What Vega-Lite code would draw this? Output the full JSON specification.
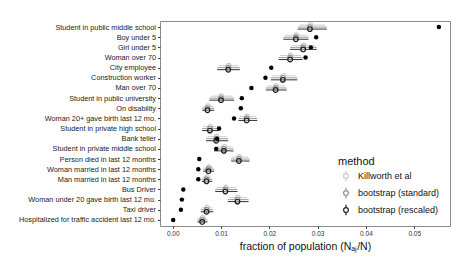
{
  "$schema": "https://vega.github.io/schema/vega-lite/v6.json",
  "width": 290,
  "height": 205,
  "autosize": {"type": "none"},
  "padding": {"left": 160, "top": 21, "right": 8, "bottom": 36},
  "config": {
    "font": "Liberation Sans",
    "view": {"stroke": "#8c8c8c", "strokeWidth": 1},
    "axis": {"domain": false, "grid": false, "tickColor": "#444", "tickSize": 2.5, "labelColor": "#222"}
  },
  "datasets": {
    "est": [
      {"group": "Student in public middle school", "method": "Killworth et al", "est": 0.0285, "lo": 0.0262, "hi": 0.0316},
      {"group": "Student in public middle school", "method": "bootstrap (standard)", "est": 0.0284, "lo": 0.0259, "hi": 0.0319},
      {"group": "Student in public middle school", "method": "bootstrap (rescaled)", "est": 0.0284, "lo": 0.0259, "hi": 0.0319},
      {"group": "Boy under 5", "method": "Killworth et al", "est": 0.0256, "lo": 0.0232, "hi": 0.0278},
      {"group": "Boy under 5", "method": "bootstrap (standard)", "est": 0.0255, "lo": 0.0229, "hi": 0.0281},
      {"group": "Boy under 5", "method": "bootstrap (rescaled)", "est": 0.0255, "lo": 0.0229, "hi": 0.0281},
      {"group": "Girl under 5", "method": "Killworth et al", "est": 0.0271, "lo": 0.0246, "hi": 0.0295},
      {"group": "Girl under 5", "method": "bootstrap (standard)", "est": 0.0270, "lo": 0.0243, "hi": 0.0298},
      {"group": "Girl under 5", "method": "bootstrap (rescaled)", "est": 0.0270, "lo": 0.0243, "hi": 0.0298},
      {"group": "Woman over 70", "method": "Killworth et al", "est": 0.0244, "lo": 0.0222, "hi": 0.0266},
      {"group": "Woman over 70", "method": "bootstrap (standard)", "est": 0.0243, "lo": 0.0219, "hi": 0.0269},
      {"group": "Woman over 70", "method": "bootstrap (rescaled)", "est": 0.0243, "lo": 0.0219, "hi": 0.0269},
      {"group": "City employee", "method": "Killworth et al", "est": 0.0116, "lo": 0.0095, "hi": 0.0136},
      {"group": "City employee", "method": "bootstrap (standard)", "est": 0.0115, "lo": 0.0092, "hi": 0.0139},
      {"group": "City employee", "method": "bootstrap (rescaled)", "est": 0.0115, "lo": 0.0092, "hi": 0.0139},
      {"group": "Construction worker", "method": "Killworth et al", "est": 0.0229, "lo": 0.0206, "hi": 0.0255},
      {"group": "Construction worker", "method": "bootstrap (standard)", "est": 0.0228, "lo": 0.0203, "hi": 0.0258},
      {"group": "Construction worker", "method": "bootstrap (rescaled)", "est": 0.0228, "lo": 0.0203, "hi": 0.0258},
      {"group": "Man over 70", "method": "Killworth et al", "est": 0.0214, "lo": 0.0196, "hi": 0.0233},
      {"group": "Man over 70", "method": "bootstrap (standard)", "est": 0.0213, "lo": 0.0193, "hi": 0.0236},
      {"group": "Man over 70", "method": "bootstrap (rescaled)", "est": 0.0213, "lo": 0.0193, "hi": 0.0236},
      {"group": "Student in public university", "method": "Killworth et al", "est": 0.0101, "lo": 0.0079, "hi": 0.0124},
      {"group": "Student in public university", "method": "bootstrap (standard)", "est": 0.0100, "lo": 0.0076, "hi": 0.0127},
      {"group": "Student in public university", "method": "bootstrap (rescaled)", "est": 0.0100, "lo": 0.0076, "hi": 0.0127},
      {"group": "On disability", "method": "Killworth et al", "est": 0.0073, "lo": 0.0063, "hi": 0.0084},
      {"group": "On disability", "method": "bootstrap (standard)", "est": 0.0072, "lo": 0.0061, "hi": 0.0086},
      {"group": "On disability", "method": "bootstrap (rescaled)", "est": 0.0072, "lo": 0.0061, "hi": 0.0086},
      {"group": "Woman 20+  gave birth last 12 mo.", "method": "Killworth et al", "est": 0.0154, "lo": 0.0138, "hi": 0.0172},
      {"group": "Woman 20+  gave birth last 12 mo.", "method": "bootstrap (standard)", "est": 0.0153, "lo": 0.0136, "hi": 0.0175},
      {"group": "Woman 20+  gave birth last 12 mo.", "method": "bootstrap (rescaled)", "est": 0.0153, "lo": 0.0136, "hi": 0.0175},
      {"group": "Student in private high school", "method": "Killworth et al", "est": 0.0078, "lo": 0.0063, "hi": 0.0094},
      {"group": "Student in private high school", "method": "bootstrap (standard)", "est": 0.0077, "lo": 0.0061, "hi": 0.0096},
      {"group": "Student in private high school", "method": "bootstrap (rescaled)", "est": 0.0077, "lo": 0.0061, "hi": 0.0096},
      {"group": "Bank teller", "method": "Killworth et al", "est": 0.0091, "lo": 0.0072, "hi": 0.0112},
      {"group": "Bank teller", "method": "bootstrap (standard)", "est": 0.0090, "lo": 0.0069, "hi": 0.0115},
      {"group": "Bank teller", "method": "bootstrap (rescaled)", "est": 0.0090, "lo": 0.0069, "hi": 0.0115},
      {"group": "Student in private middle school", "method": "Killworth et al", "est": 0.0107, "lo": 0.0088, "hi": 0.0124},
      {"group": "Student in private middle school", "method": "bootstrap (standard)", "est": 0.0106, "lo": 0.0086, "hi": 0.0126},
      {"group": "Student in private middle school", "method": "bootstrap (rescaled)", "est": 0.0106, "lo": 0.0086, "hi": 0.0126},
      {"group": "Person died in last 12 months", "method": "Killworth et al", "est": 0.0138, "lo": 0.0123, "hi": 0.0156},
      {"group": "Person died in last 12 months", "method": "bootstrap (standard)", "est": 0.0137, "lo": 0.0121, "hi": 0.0159},
      {"group": "Person died in last 12 months", "method": "bootstrap (rescaled)", "est": 0.0137, "lo": 0.0121, "hi": 0.0159},
      {"group": "Woman married in last 12 months", "method": "Killworth et al", "est": 0.0075, "lo": 0.0065, "hi": 0.0084},
      {"group": "Woman married in last 12 months", "method": "bootstrap (standard)", "est": 0.0074, "lo": 0.0063, "hi": 0.0086},
      {"group": "Woman married in last 12 months", "method": "bootstrap (rescaled)", "est": 0.0074, "lo": 0.0063, "hi": 0.0086},
      {"group": "Man married in last 12 months", "method": "Killworth et al", "est": 0.0071, "lo": 0.0062, "hi": 0.0080},
      {"group": "Man married in last 12 months", "method": "bootstrap (standard)", "est": 0.0070, "lo": 0.0060, "hi": 0.0082},
      {"group": "Man married in last 12 months", "method": "bootstrap (rescaled)", "est": 0.0070, "lo": 0.0060, "hi": 0.0082},
      {"group": "Bus Driver", "method": "Killworth et al", "est": 0.0110, "lo": 0.0091, "hi": 0.0131},
      {"group": "Bus Driver", "method": "bootstrap (standard)", "est": 0.0109, "lo": 0.0088, "hi": 0.0134},
      {"group": "Bus Driver", "method": "bootstrap (rescaled)", "est": 0.0109, "lo": 0.0088, "hi": 0.0134},
      {"group": "Woman under 20 gave birth last 12 mo.", "method": "Killworth et al", "est": 0.0135, "lo": 0.0117, "hi": 0.0154},
      {"group": "Woman under 20 gave birth last 12 mo.", "method": "bootstrap (standard)", "est": 0.0134, "lo": 0.0114, "hi": 0.0157},
      {"group": "Woman under 20 gave birth last 12 mo.", "method": "bootstrap (rescaled)", "est": 0.0134, "lo": 0.0114, "hi": 0.0157},
      {"group": "Taxi driver", "method": "Killworth et al", "est": 0.0071, "lo": 0.0060, "hi": 0.0082},
      {"group": "Taxi driver", "method": "bootstrap (standard)", "est": 0.0070, "lo": 0.0058, "hi": 0.0084},
      {"group": "Taxi driver", "method": "bootstrap (rescaled)", "est": 0.0070, "lo": 0.0058, "hi": 0.0084},
      {"group": "Hospitalized for traffic accident last 12 mo.", "method": "Killworth et al", "est": 0.0062, "lo": 0.0053, "hi": 0.0070},
      {"group": "Hospitalized for traffic accident last 12 mo.", "method": "bootstrap (standard)", "est": 0.0061, "lo": 0.0051, "hi": 0.0072},
      {"group": "Hospitalized for traffic accident last 12 mo.", "method": "bootstrap (rescaled)", "est": 0.0061, "lo": 0.0051, "hi": 0.0072}
    ],
    "truth": [
      {"group": "Student in public middle school", "value": 0.0551},
      {"group": "Boy under 5", "value": 0.0297},
      {"group": "Girl under 5", "value": 0.0286},
      {"group": "Woman over 70", "value": 0.0275},
      {"group": "City employee", "value": 0.0204},
      {"group": "Construction worker", "value": 0.0192},
      {"group": "Man over 70", "value": 0.0163},
      {"group": "Student in public university", "value": 0.0143},
      {"group": "On disability", "value": 0.0141},
      {"group": "Woman 20+  gave birth last 12 mo.", "value": 0.0127},
      {"group": "Student in private high school", "value": 0.0096},
      {"group": "Bank teller", "value": 0.0092},
      {"group": "Student in private middle school", "value": 0.0090},
      {"group": "Person died in last 12 months", "value": 0.0055},
      {"group": "Woman married in last 12 months", "value": 0.0053},
      {"group": "Man married in last 12 months", "value": 0.0053},
      {"group": "Bus Driver", "value": 0.0022},
      {"group": "Woman under 20 gave birth last 12 mo.", "value": 0.0019},
      {"group": "Taxi driver", "value": 0.0017},
      {"group": "Hospitalized for traffic accident last 12 mo.", "value": 0.0001}
    ]
  },
  "encoding": {
    "y": {
      "field": "group", "type": "nominal", "sort": null,
      "scale": {"type": "point", "padding": 0.6},
      "axis": {"title": null, "labelFontSize": 7.3, "labelPadding": 2, "labelColor": "#222"}
    }
  },
  "layer": [
    {
      "data": {"name": "est"},
      "mark": {"type": "rule", "strokeWidth": 0.9},
      "encoding": {
        "x": {"field": "lo", "type": "quantitative"},
        "x2": {"field": "hi"},
        "yOffset": {"field": "method", "type": "nominal", "scale": {"type": "point", "domain": ["Killworth et al", "bootstrap (standard)", "bootstrap (rescaled)"], "range": [-3, 3]}},
        "stroke": {"field": "method", "type": "nominal",
          "scale": {"domain": ["Killworth et al", "bootstrap (standard)", "bootstrap (rescaled)"], "range": ["#c8c8c8", "#8f8f8f", "#1a1a1a"]}}
      }
    },
    {
      "data": {"name": "est"},
      "mark": {"type": "point", "shape": "circle", "filled": false, "strokeWidth": 1.2, "size": 22, "opacity": 1},
      "encoding": {
        "x": {
          "field": "est", "type": "quantitative",
          "scale": {"domain": [-0.00263, 0.0574], "nice": false, "zero": false},
          "axis": {"values": [0, 0.01, 0.02, 0.03, 0.04, 0.05], "format": ".2f", "labelFontSize": 6.5, "labelPadding": 2, "labelColor": "#333",
            "title": "fraction of population (Nₐⱼ/N)", "titleFontSize": 10.5, "titleFontWeight": "normal", "titlePadding": 4, "titleColor": "#111"}
        },
        "yOffset": {"field": "method", "type": "nominal", "scale": {"type": "point", "domain": ["Killworth et al", "bootstrap (standard)", "bootstrap (rescaled)"], "range": [-3, 3]}},
        "stroke": {"field": "method", "type": "nominal",
          "scale": {"domain": ["Killworth et al", "bootstrap (standard)", "bootstrap (rescaled)"], "range": ["#c8c8c8", "#8f8f8f", "#1a1a1a"]},
          "legend": {
            "orient": "none", "legendX": 178, "legendY": 135,
            "title": "method", "titleFontSize": 11, "titleFontWeight": "normal", "titleColor": "#111", "titlePadding": 3,
            "labelFontSize": 9, "labelColor": "#111", "labelOffset": 6, "symbolOffset": 2,
            "symbolType": "M -0.45 0 A 0.45 0.45 0 1 1 0.45 0 A 0.45 0.45 0 1 1 -0.45 0 M 0 -1 L 0 -0.45 M 0 0.45 L 0 1",
            "symbolSize": 110, "symbolStrokeWidth": 1.2, "symbolFillColor": "transparent",
            "rowPadding": 1, "fillColor": "white"
          }
        }
      }
    },
    {
      "data": {"name": "truth"},
      "mark": {"type": "circle", "color": "black", "size": 20, "opacity": 1},
      "encoding": {
        "x": {"field": "value", "type": "quantitative"}
      }
    }
  ]
}
